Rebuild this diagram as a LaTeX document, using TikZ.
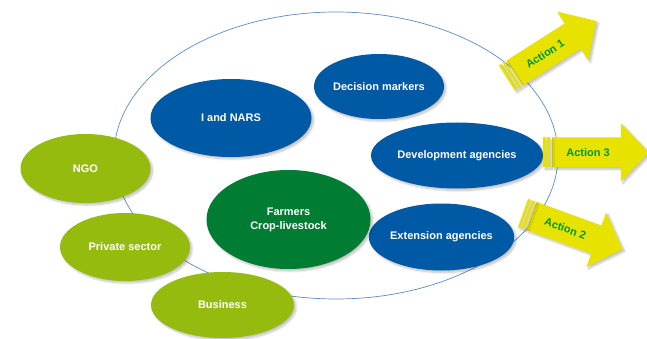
\documentclass[tikz,border=0pt]{standalone}
\usepackage{fontspec}
\setmainfont{Liberation Sans}
\usepackage{xcolor}
\usetikzlibrary{shapes.geometric, shadows.blur}

\definecolor{orgblue}{RGB}{0,89,165}
\definecolor{farmgreen}{RGB}{0,125,50}
\definecolor{partnergreen}{RGB}{150,187,15}
\definecolor{actionyellow}{RGB}{232,226,0}
\definecolor{actiontext}{RGB}{0,150,60}
\definecolor{ringblue}{RGB}{90,140,200}

\begin{document}
\begin{tikzpicture}[
    x=1pt, y=-1pt,
    soft/.style={
        blur shadow={shadow xshift=2pt, shadow yshift=-2pt,
                     shadow blur steps=6, shadow opacity=25}
    },
    actor/.style={
        ellipse,
        soft,
        inner sep=0pt,
        align=center,
        text=white,
        font=\bfseries\fontsize{11}{14}\selectfont
    },
    org/.style={actor, fill=orgblue},
    partner/.style={actor, fill=partnergreen},
    farmer/.style={actor, fill=farmgreen},
    ring/.style={
        ellipse,
        draw=ringblue,
        line width=0.7pt,
        minimum width=444pt,
        minimum height=287pt
    },
    actionlabel/.style={
        text=actiontext,
        font=\bfseries\fontsize{11}{13}\selectfont
    }
]
\useasboundingbox (0,0) rectangle (647,339);

% Network boundary
\node[ring] (network) at (336,155.5) {};

% Organisations inside the network
\node[org, minimum width=161pt, minimum height=78pt] (nars) at (231,118) {I and NARS};
\node[org, minimum width=130pt, minimum height=65pt] (decision) at (379,86.5) {Decision markers};
\node[org, minimum width=172pt, minimum height=66pt] (devagency) at (457,155.5) {Development agencies};
\node[org, minimum width=141pt, minimum height=67pt] (extension) at (441.5,237) {Extension agencies};
\node[farmer, minimum width=164pt, minimum height=99pt] (farmers) at (288.5,219.5) {Farmers\\Crop-livestock};

% Partners on the boundary
\node[partner, minimum width=130pt, minimum height=69pt] (ngo) at (85.5,168.5) {NGO};
\node[partner, minimum width=130pt, minimum height=68pt] (private) at (125,247) {Private sector};
\node[partner, minimum width=143pt, minimum height=66pt] (business) at (222.5,305) {Business};

% Striped action arrows
\foreach \name/\px/\py/\ang/\lbl in {act1/507/78/32.5/Action 1,
                                     act3/543/152.5/0/Action 3,
                                     act2/523/213/-20/Action 2} {
  \begin{scope}[shift={(\px,\py)}, rotate=\ang]
    \fill[actionyellow, soft] (9,-15) -- (78,-15) -- (78,-29) -- (106,0)
        -- (78,29) -- (78,15) -- (9,15) -- cycle;
    \fill[actionyellow, soft] (0,-15) rectangle (2.7,15);
    \fill[actionyellow, soft] (4.4,-15) rectangle (7.1,15);
    \node[actionlabel, transform shape] (\name) at (45,0) {\lbl};
  \end{scope}
}

\end{tikzpicture}
\end{document}
